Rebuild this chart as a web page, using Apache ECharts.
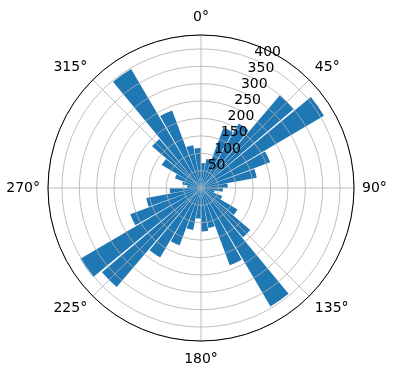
<!DOCTYPE html>
<html><head><meta charset="utf-8">
<script src="https://cdn.jsdelivr.net/npm/echarts@6/dist/echarts.min.js"></script>
<style>html,body{margin:0;padding:0;background:#fff}#c{width:396px;height:380px}</style>
</head><body><div id="c"></div>
<script>
// 36 direction bins of 10 degrees, clockwise from north
const sectors = ['0-10','10-20','20-30','30-40','40-50','50-60','60-70','70-80','80-90',
  '90-100','100-110','110-120','120-130','130-140','140-150','150-160','160-170','170-180',
  '180-190','190-200','200-210','210-220','220-230','230-240','240-250','250-260','260-270',
  '270-280','280-290','290-300','300-310','310-320','320-330','330-340','340-350','350-360'];
const counts = [72, 85, 185, 215, 350, 410, 212, 163, 77,
  63, 40, 65, 122, 186, 395, 237, 117, 125,
  88, 123, 176, 232, 374, 402, 217, 160, 90,
  40, 55, 80, 131, 185, 397, 238, 125, 115];
const angleTicks = [0, 45, 90, 135, 180, 225, 270, 315];
const radiusTicks = [50, 100, 150, 200, 250, 300, 350, 400];
const rMax = 440;

const FONT = 'DejaVu Sans';
const C = [201, 188], R = 153;
const rich = {
  s0: {padding: [0, 0, 3, 0]},
  s180: {padding: [3, 0, 0, 0]},
  s: {}
};
const chart = echarts.init(document.getElementById('c'), null, {renderer: 'canvas'});
chart.setOption({
  animation: false,
  backgroundColor: '#ffffff',
  polar: [
    {center: C, radius: R},
    {center: C, radius: R},
    {center: C, radius: R}
  ],
  angleAxis: [
    {polarIndex: 0, type: 'category', data: sectors, startAngle: 90, clockwise: true,
     boundaryGap: true, axisLine: {show: false}, axisTick: {show: false},
     axisLabel: {show: false}, splitLine: {show: false}},
    {polarIndex: 1, type: 'value', min: 0, max: 360, interval: 45, startAngle: 90, clockwise: true,
     z: 6,
     axisLine: {show: true, lineStyle: {color: '#000', width: 1}},
     axisTick: {show: false},
     axisLabel: {show: true, margin: 8, color: '#000', fontFamily: FONT, fontSize: 14,
       rich: rich,
       formatter: v => {
         if (angleTicks.indexOf(v) < 0) return '';
         const key = (v === 0 || v === 180) ? 's' + v : 's';
         return '{' + key + '|' + v + '°}';
       }},
     splitLine: {show: true, lineStyle: {color: '#b0b0b0', width: 0.8}}},
    {polarIndex: 2, type: 'value', min: 0, max: 360, startAngle: 67.5, clockwise: true,
     axisLine: {show: false}, axisTick: {show: false}, axisLabel: {show: false}, splitLine: {show: false}}
  ],
  radiusAxis: [
    {polarIndex: 0, type: 'value', min: 0, max: rMax, axisLine: {show: false}, axisTick: {show: false},
     axisLabel: {show: false}, splitLine: {show: false}},
    {polarIndex: 1, type: 'value', min: 0, max: rMax, interval: 50, z: 5,
     axisLine: {show: false}, axisTick: {show: false}, axisLabel: {show: false},
     splitLine: {show: true, lineStyle: {color: '#b0b0b0', width: 0.8}}},
    {polarIndex: 2, type: 'value', min: 0, max: rMax, interval: 50, z: 7,
     axisLine: {show: false}, axisTick: {show: false}, splitLine: {show: false},
     axisLabel: {show: true, margin: 0, color: '#000', fontFamily: FONT, fontSize: 14,
       align: 'left', verticalAlign: 'bottom',
       formatter: v => radiusTicks.indexOf(v) >= 0 ? String(v) : ''}}
  ],
  series: [{
    type: 'bar', coordinateSystem: 'polar', polarIndex: 0,
    data: counts, barCategoryGap: '8%', z: 2,
    itemStyle: {color: '#1f77b4'}
  }]
});
</script></body></html>
